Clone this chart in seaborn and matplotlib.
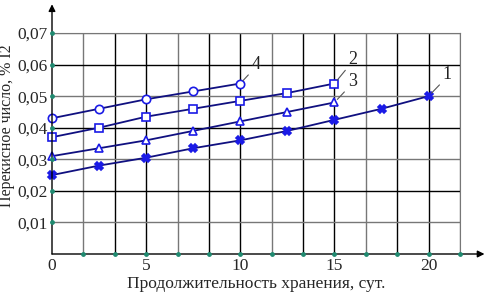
import numpy as np
import pandas as pd
import seaborn as sns
import matplotlib.pyplot as plt

# ---------------------------
# Data
# ---------------------------
days = [0, 2.5, 5, 7.5, 10, 12.5, 15, 17.5, 20]
s1 = [0.025, 0.028, 0.0305, 0.0335, 0.036, 0.039, 0.0425, 0.046, 0.050]
s2 = [0.037, 0.040, 0.0435, 0.046, 0.0485, 0.051, 0.054]
s3 = [0.031, 0.0335, 0.036, 0.039, 0.042, 0.045, 0.048]
s4 = [0.043, 0.046, 0.049, 0.0515, 0.054]

x_ticks = [0, 5, 10, 15, 20]
y_ticks = [0.01, 0.02, 0.03, 0.04, 0.05, 0.06, 0.07]
y_labels = ["0,01", "0,02", "0,03", "0,04", "0,05", "0,06", "0,07"]

series_names = ["1", "2", "3", "4"]
label_pos = [(20.75, 0.0541), (15.75, 0.0589), (15.7, 0.0519), (10.6, 0.0573)]

# ---------------------------
# Global settings
# ---------------------------
sns.set_style("white")
plt.rcParams["font.family"] = ["Liberation Serif", "DejaVu Serif"]

fig = plt.figure(figsize=(4.89, 2.96), dpi=100)
ax = fig.add_axes([52 / 489, 1 - 254 / 296, (460 - 52) / 489, (254 - 33) / 296])

step = 5 / 3
xmax = 13 * step
ax.set_xlim(0, xmax)
ax.set_ylim(0, 0.07)

# grid lines
grid_x = np.arange(1, 14) * step
for i, gx in enumerate(grid_x):
    ax.axvline(gx, color="black" if i % 3 in (1, 2) else "#777777", lw=1.0, zorder=1)
for i, gy in enumerate(y_ticks):
    ax.axhline(gy, color="black" if i % 2 else "#777777", lw=1.0, zorder=1)

# series
line_color = "#101080"
mark_color = "#1a1ae6"
dfs = [
    pd.DataFrame({"x": days[:len(s1)], "y": s1}),
    pd.DataFrame({"x": days[:len(s2)], "y": s2}),
    pd.DataFrame({"x": days[:len(s3)], "y": s3}),
    pd.DataFrame({"x": days[:len(s4)], "y": s4}),
]
markers = ["X", "s", "^", "o"]
for df, m in zip(dfs, markers):
    face = mark_color if m == "X" else "white"
    sns.lineplot(data=df, x="x", y="y", ax=ax, color=line_color, lw=1.3,
                 marker=m, markersize=6,
                 markerfacecolor=face, markeredgecolor=mark_color,
                 markeredgewidth=1.2, zorder=3, clip_on=False)

# series labels with leader lines
ends = [(days[len(s)-1], s[-1]) for s in (s1, s2, s3, s4)]
for name, (lx, ly), (ex, ey) in zip(series_names, label_pos, ends):
    ax.annotate(name, xy=(ex, ey), xytext=(lx, ly), fontsize=13,
                ha="left", va="bottom", color="#222222",
                arrowprops=dict(arrowstyle="-", color="#555555", lw=0.8,
                                relpos=(0, 0.1), shrinkA=0, shrinkB=3))

# ticks and labels
ax.set_xticks(x_ticks)
ax.set_xticklabels([str(v) for v in x_ticks], fontsize=12.5)
ax.set_yticks(y_ticks)
ax.set_yticklabels(y_labels, fontsize=12.5)
ax.tick_params(length=0, pad=3)
ax.set_xlabel("Продолжительность хранения, сут.", fontsize=12.5, labelpad=1)
ax.set_ylabel("Перекисное число, % I2", fontsize=11.5, labelpad=2)
ax.yaxis.set_label_coords(-0.09, 0.58)

for side in ["top", "right"]:
    ax.spines[side].set_color("#777777")
for side in ["left", "bottom"]:
    ax.spines[side].set_visible(False)

# axis arrows
ax.annotate("", xy=(1.06, 0), xycoords="axes fraction", xytext=(0, 0),
            arrowprops=dict(arrowstyle="-|>", color="black", lw=1.0,
                            mutation_scale=10, shrinkA=0, shrinkB=0))
ax.annotate("", xy=(0, 1.13), xycoords="axes fraction", xytext=(0, 0),
            arrowprops=dict(arrowstyle="-|>", color="black", lw=1.0,
                            mutation_scale=10, shrinkA=0, shrinkB=0))

# green dots on axes
ax.scatter(grid_x, np.zeros(len(grid_x)), s=6, color="#1f8a70", zorder=4, clip_on=False)
ax.scatter(np.zeros(len(y_ticks)), y_ticks, s=6, color="#1f8a70", zorder=4, clip_on=False)

fig.savefig("out.png", dpi=100)
